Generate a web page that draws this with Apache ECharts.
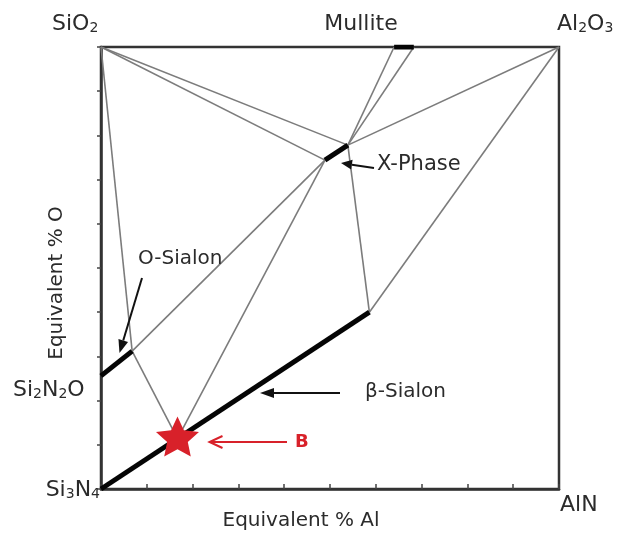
<!DOCTYPE html>
<html><head><meta charset="utf-8">
<script src="https://cdn.jsdelivr.net/npm/echarts@6/dist/echarts.min.js"></script>
<style>html,body{margin:0;padding:0;background:#fff}#c{width:617px;height:533px}</style>
</head><body><div id="c"></div>
<script>
// ---- data: compositions as (equivalent % Al, equivalent % O) ----
const pointNames = ['SiO2','Al2O3','AlN','Si3N4','Si2N2O','O-Sialon limit','X-Phase low','X-Phase high','Mullite low','Mullite high','β-Sialon limit','B'];
const pointAl    = [0, 100, 100, 0, 0,    6.8, 48.9, 53.9, 64.0, 68.3, 58.6, 16.7];
const pointO     = [100,100, 0,  0, 25.6, 31.2, 74.4, 77.8, 100,  100,  40.0, 11.4];
const tieLines = [
  ['SiO2','O-Sialon limit'],
  ['O-Sialon limit','B'],
  ['O-Sialon limit','X-Phase low'],
  ['B','X-Phase low'],
  ['SiO2','X-Phase low'],
  ['SiO2','X-Phase high'],
  ['Mullite low','X-Phase high'],
  ['Mullite high','X-Phase high'],
  ['X-Phase high','Al2O3'],
  ['X-Phase high','β-Sialon limit'],
  ['β-Sialon limit','Al2O3']
];
const solidSolutions = [
  ['Si2N2O','O-Sialon limit'],
  ['Si3N4','β-Sialon limit'],
  ['X-Phase low','X-Phase high'],
  ['Mullite low','Mullite high']
];
const markedPoints = ['B'];
const axisMin = 0, axisMax = 100, axisStep = 10;

// ---- helpers ----
function pt(name){ const i = pointNames.indexOf(name); return [pointAl[i], pointO[i]]; }
function starPath(R, r){
  let s = '';
  for (let k = 0; k < 10; k++){
    const rad = (k % 2) ? r : R;
    const a = -Math.PI/2 + k*Math.PI/5;
    s += (k ? 'L' : 'M') + (rad*Math.cos(a)).toFixed(2) + ' ' + (rad*Math.sin(a)).toFixed(2);
  }
  return 'path://' + s + 'Z';
}
const FONT = 'DejaVu Sans';
const TXT = '#2b2b2b';
const RED = '#d8212a';

const series = [];
tieLines.forEach(([a,b]) => series.push({
  type:'line', data:[pt(a), pt(b)], symbol:'none', silent:true, z:2,
  lineStyle:{color:'#7c7c7c', width:1.6}
}));
solidSolutions.forEach(([a,b]) => series.push({
  type:'line', data:[pt(a), pt(b)], symbol:'none', silent:true, z:3,
  lineStyle:{color:'#050505', width:5, cap:'butt'}
}));
series.push({
  type:'scatter', data: markedPoints.map(pt), symbol: starPath(50, 24),
  symbolSize:[43,40], symbolOffset:[0,-2], z:5, silent:true,
  itemStyle:{color:RED, opacity:1}
});

// ---- annotation helpers ----
function chem(parts, x, y, align){
  const text = parts.map(p => p[1] ? '{s|' + p[0] + '}' : '{m|' + p[0] + '}').join('');
  return { type:'text', x, y, silent:true, z:10, style:{
    text, align: align || 'left', verticalAlign:'middle',
    rich:{
      m:{fontFamily:FONT, fontSize:22, lineHeight:22, verticalAlign:'top', fill:TXT},
      s:{fontFamily:FONT, fontSize:14, lineHeight:14, padding:[11,0,0,0], verticalAlign:'bottom', fill:TXT}
    }
  }};
}
function label(t, x, y, opts){
  opts = opts || {};
  return { type:'text', x, y, rotation: opts.rotation || 0, silent:true, z:10, style:{
    text:t, fontFamily:FONT, fontSize: opts.size || 20, fill: opts.color || TXT,
    fontWeight: opts.weight || 'normal',
    align: opts.align || 'left', verticalAlign:'middle'
  }};
}
function arrow(tail, tip, color, filled, len, half, width){
  const dx = tail[0]-tip[0], dy = tail[1]-tip[1];
  const L = Math.hypot(dx,dy), ux = dx/L, uy = dy/L, nx = -uy, ny = ux;
  const b = [tip[0]+ux*len, tip[1]+uy*len];
  const p1 = [b[0]+nx*half, b[1]+ny*half], p2 = [b[0]-nx*half, b[1]-ny*half];
  const els = [];
  if (filled){
    els.push({type:'line', silent:true, z:10, shape:{x1:tail[0],y1:tail[1],x2:b[0],y2:b[1]}, style:{stroke:color, lineWidth:width}});
    els.push({type:'polygon', silent:true, z:10, shape:{points:[tip,p1,p2]}, style:{fill:color}});
  } else {
    els.push({type:'line', silent:true, z:10, shape:{x1:tail[0],y1:tail[1],x2:tip[0],y2:tip[1]}, style:{stroke:color, lineWidth:width}});
    els.push({type:'polyline', silent:true, z:10, shape:{points:[p1,tip,p2]}, style:{stroke:color, lineWidth:width, fill:null}});
  }
  return els;
}

const graphics = [
  chem([['SiO',0],['2',1]], 52, 24),
  label('Mullite', 361, 24, {size:22, align:'center'}),
  chem([['Al',0],['2',1],['O',0],['3',1]], 557, 24),
  chem([['Si',0],['2',1],['N',0],['2',1],['O',0]], 13, 390),
  chem([['Si',0],['3',1],['N',0],['4',1]], 100, 490, 'right'),
  label('AlN', 560, 505, {size:22}),
  label('X-Phase', 377, 165, {size:21}),
  label('O-Sialon', 138, 259),
  label('β-Sialon', 365, 392),
  label('B', 295, 442, {color:RED, size:18, weight:'bold'}),
  label('Equivalent % Al', 301, 521, {align:'center'}),
  label('Equivalent % O', 57, 283, {align:'center', rotation:Math.PI/2})
].concat(
  arrow([142,278],[119.5,353],'#111',true,13,5,2),
  arrow([374,168],[341,163],'#111',true,11,5,2),
  arrow([340,393],[260,393],'#111',true,14,5,2),
  arrow([287,442],[209.5,442],RED,false,13,6,2)
);

const chart = echarts.init(document.getElementById('c'), null, {renderer:'canvas'});
chart.setOption({
  animation:false,
  backgroundColor:'#fff',
  grid:{left:101, right:58, top:47, bottom:44, show:true, borderColor:'#333', borderWidth:2.5, backgroundColor:'transparent'},
  xAxis:{type:'value', min:axisMin, max:axisMax, interval:axisStep,
    axisLine:{show:true, lineStyle:{color:'#333', width:2.5}},
    axisTick:{show:true, inside:true, length:5, lineStyle:{color:'#444', width:1.5}},
    axisLabel:{show:false}, splitLine:{show:false}},
  yAxis:{type:'value', min:axisMin, max:axisMax, interval:axisStep,
    axisLine:{show:true, lineStyle:{color:'#333', width:2.5}},
    axisTick:{show:true, inside:false, length:4, lineStyle:{color:'#444', width:1.5}},
    axisLabel:{show:false}, splitLine:{show:false}},
  series,
  graphic: graphics
});
</script>
</body></html>
